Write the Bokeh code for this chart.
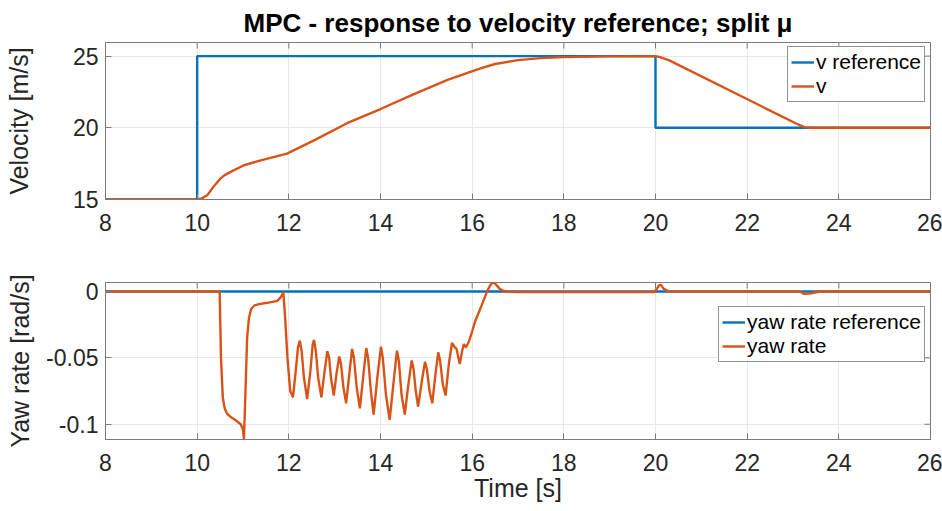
import math
from bokeh.plotting import figure
from bokeh.models import Range1d, FixedTicker, Legend
from bokeh.layouts import column
from bokeh.embed import file_html
from bokeh.resources import INLINE

# ---------------- data ----------------
t_vref = [8, 10, 10, 20, 20, 26]
vref = [15, 15, 25, 25, 20, 20]

t_v = [8, 10.0, 10.1, 10.22, 10.36, 10.51, 10.6, 10.73, 11.02, 11.45, 11.96,
       12.55, 13.27, 14.0, 14.73, 15.45, 16.18, 16.5, 17.0, 17.5, 18.0, 19.0,
       20.0, 20.1, 20.3, 23.1, 23.25, 23.4, 26]
v = [15, 15, 15.08, 15.3, 15.9, 16.47, 16.7, 16.93, 17.39, 17.78, 18.2,
     19.12, 20.32, 21.31, 22.35, 23.32, 24.15, 24.45, 24.72, 24.86, 24.93, 24.98,
     25.0, 24.93, 24.7, 20.25, 20.05, 20.0, 20]

t_rref = [8, 26]
rref = [0, 0]

t_r = [8, 10.49, 10.52, 10.56, 10.6, 10.65, 10.75, 10.84, 10.95, 11.0, 11.02,
       11.05, 11.09, 11.13, 11.18, 11.25, 11.35, 11.53, 11.75, 11.83, 11.88,
       11.92, 11.97, 12.03, 12.09, 12.15, 12.2, 12.24, 12.28, 12.33, 12.4,
       12.47, 12.52, 12.55, 12.59, 12.64, 12.71, 12.78, 12.84, 12.88, 12.92,
       12.98, 13.04, 13.1, 13.14, 13.19, 13.25, 13.32, 13.38, 13.42, 13.48,
       13.55, 13.62, 13.69, 13.73, 13.79, 13.85, 13.93, 14.01, 14.05, 14.12,
       14.2, 14.28, 14.36, 14.4, 14.46, 14.53, 14.6, 14.68, 14.72, 14.77,
       14.82, 14.9, 14.97, 15.01, 15.07, 15.13, 15.2, 15.26, 15.3, 15.36,
       15.42, 15.49, 15.56, 15.62, 15.66, 15.7, 15.73, 15.78, 15.82, 15.86,
       15.88, 15.93, 16.0, 16.07, 16.2, 16.33, 16.4, 16.45, 16.5, 16.6, 16.7,
       16.8, 17.0, 19.97, 20.03, 20.08, 20.12, 20.18, 20.3, 23.15, 23.24,
       23.35, 23.6, 26]
r = [0, 0, -0.05, -0.08, -0.088, -0.092, -0.095, -0.097, -0.1, -0.104, -0.1115,
     -0.08, -0.035, -0.02, -0.013, -0.0105, -0.0095, -0.0085, -0.007, -0.004, -0.0005,
     -0.02, -0.05, -0.075, -0.0797, -0.06, -0.042, -0.037, -0.045, -0.065, -0.081,
     -0.06, -0.04, -0.0365, -0.045, -0.065, -0.0797, -0.06, -0.045, -0.05, -0.065,
     -0.0784, -0.062, -0.049, -0.055, -0.072, -0.0842, -0.062, -0.0433, -0.05, -0.072,
     -0.088, -0.065, -0.0426, -0.05, -0.075, -0.0927, -0.065, -0.0416, -0.05, -0.078,
     -0.0967, -0.07, -0.0446, -0.052, -0.078, -0.0927, -0.072, -0.052, -0.058, -0.075,
     -0.0867, -0.068, -0.053, -0.058, -0.075, -0.0842, -0.062, -0.0458, -0.052, -0.07,
     -0.0784, -0.055, -0.0388, -0.042, -0.0433, -0.05, -0.0546, -0.045, -0.0396, -0.042,
     -0.041, -0.0376, -0.03, -0.022, -0.011, 0.0005, 0.005, 0.0068, 0.006, 0.002, 0.0002,
     -0.0003, -0.0004, -0.0004, 0.002, 0.0048, 0.005, 0.002, 0.0, 0.0, -0.0018,
     -0.0015, 0.0, 0]

x_ticks = [8, 10, 12, 14, 16, 18, 20, 22, 24, 26]
v_ticks = [15, 20, 25]
r_ticks = [-0.1, -0.05, 0]
r_tick_labels = ["-0.1", "-0.05", "0"]

X_LIM = (8, 26)
V_LIM = (15, 25.95)
R_LIM = (-0.1115, 0.0068)

BLUE = "#0072BD"
ORANGE = "#D95319"
FONT = "Liberation Sans"
TXT = "#262626"
AX = "#7a7a7a"
GRID = "#e8e8e8"
LW = 2.4


def style(p, yticks, ylim, label_standoff):
    for ax in p.xaxis + p.yaxis:
        ax.axis_line_color = AX
        ax.major_tick_line_color = AX
        ax.major_tick_in = 6
        ax.major_tick_out = 0
        ax.minor_tick_line_color = None
        ax.major_label_text_font = FONT
        ax.major_label_text_font_size = "23px"
        ax.major_label_text_color = TXT
        ax.axis_label_text_font = FONT
        ax.axis_label_text_font_size = "25px"
        ax.axis_label_text_font_style = "normal"
        ax.axis_label_text_color = TXT
    p.xaxis.ticker = FixedTicker(ticks=x_ticks)
    p.yaxis.ticker = FixedTicker(ticks=yticks)
    p.xaxis.major_label_standoff = 14
    p.yaxis.major_label_standoff = 7
    p.yaxis.axis_label_standoff = label_standoff
    p.xgrid.ticker = FixedTicker(ticks=x_ticks)
    p.ygrid.ticker = FixedTicker(ticks=yticks)
    p.grid.grid_line_color = GRID
    p.outline_line_color = AX
    # box ticks on the top and right edges (inward, in screen units)
    p.ray(x=x_ticks, y=[ylim[1]] * len(x_ticks), length=6, length_units="screen",
          angle=-math.pi / 2, line_color=AX, line_width=1)
    p.ray(x=[X_LIM[1]] * len(yticks), y=yticks, length=6, length_units="screen",
          angle=math.pi, line_color=AX, line_width=1)


# ---------------- top plot ----------------
p1 = figure(output_backend="svg", toolbar_location=None,
            x_range=Range1d(*X_LIM), y_range=Range1d(*V_LIM),
            min_border_left=105, min_border_right=12, min_border_top=42,
            min_border_bottom=41, frame_width=825, frame_height=157)
p1.title.text = "MPC - response to velocity reference; split \u03bc"
p1.title.align = "center"
p1.title.text_font = FONT
p1.title.text_font_size = "26px"
p1.title.text_font_style = "bold"
p1.title.text_color = "#000000"
p1.title.standoff = 10

style(p1, v_ticks, V_LIM, 37)
l1 = p1.line(t_vref, vref, line_color=BLUE, line_width=LW)
l2 = p1.line(t_v, v, line_color=ORANGE, line_width=LW)
p1.yaxis.axis_label = "Velocity [m/s]"

leg1 = Legend(items=[("v reference", [l1]), ("v", [l2])], location=(682, 97))
p1.add_layout(leg1)

# ---------------- bottom plot ----------------
p2 = figure(output_backend="svg", toolbar_location=None,
            x_range=Range1d(*X_LIM), y_range=Range1d(*R_LIM),
            min_border_left=105, min_border_right=12, min_border_top=42,
            min_border_bottom=72, frame_width=825, frame_height=157)
style(p2, r_ticks, R_LIM, 9)
m1 = p2.line(t_rref, rref, line_color=BLUE, line_width=LW)
m2 = p2.line(t_r, r, line_color=ORANGE, line_width=LW)
p2.yaxis.axis_label = "Yaw rate [rad/s]"
p2.xaxis.axis_label = "Time [s]"
p2.yaxis[0].major_label_overrides = {t: s for t, s in zip(r_ticks, r_tick_labels)}
p2.xaxis[0].axis_label_standoff = 0

leg2 = Legend(items=[("yaw rate reference", [m1]), ("yaw rate", [m2])],
              location=(613, 77))
p2.add_layout(leg2)

for lg in (leg1, leg2):
    lg.label_text_font = FONT
    lg.label_text_font_size = "21px"
    lg.label_text_color = "#000000"
    lg.border_line_color = "#262626"
    lg.border_line_width = 1
    lg.background_fill_color = "white"
    lg.background_fill_alpha = 1
    lg.padding = 3
    lg.spacing = 0
    lg.margin = 0
    lg.glyph_width = 23
    lg.glyph_height = 22
    lg.label_height = 22
    lg.label_standoff = 2

layout = column(p1, p2, spacing=0)
open("out.html", "w").write(file_html(layout, INLINE))
